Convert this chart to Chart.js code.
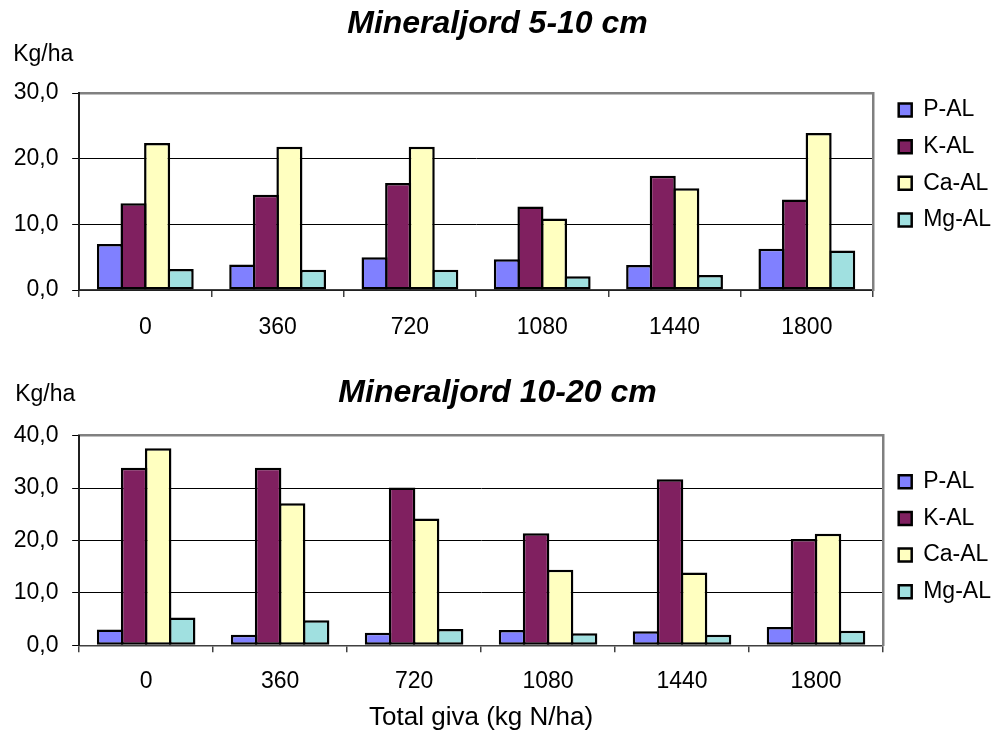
<!DOCTYPE html>
<html>
<head>
<meta charset="utf-8">
<script src="https://cdn.jsdelivr.net/npm/chart.js@4.4.1/dist/chart.umd.min.js"></script>
<style>
  html, body { margin: 0; padding: 0; background: #fff; }
  #wrap { width: 995px; height: 736px; position: relative; }
  .panel { position: absolute; left: 0; width: 995px; }
  #panelTop { top: 0; height: 340px; }
  #panelBottom { top: 340px; height: 396px; }
</style>
</head>
<body>
<div id="wrap">
  <div class="panel" id="panelTop"><canvas id="chartTop"></canvas></div>
  <div class="panel" id="panelBottom"><canvas id="chartBottom"></canvas></div>
</div>
<script>
// Total nitrogen dose (kg N/ha)
const doses = ['0', '360', '720', '1080', '1440', '1800'];
const seriesNames = ['P-AL', 'K-AL', 'Ca-AL', 'Mg-AL'];

// Mineral soil 5-10 cm, kg/ha
const pAL_5_10  = [7.0, 3.9, 5.0, 4.7, 3.8, 6.3];
const kAL_5_10  = [13.2, 14.5, 16.3, 12.7, 17.4, 13.8];
const caAL_5_10 = [22.4, 21.8, 21.8, 10.9, 15.5, 23.9];
const mgAL_5_10 = [3.2, 3.1, 3.1, 2.1, 2.3, 6.0];

// Mineral soil 10-20 cm, kg/ha
const pAL_10_20  = [3.0, 2.0, 2.4, 2.9, 2.7, 3.5];
const kAL_10_20  = [33.9, 33.9, 30.1, 21.4, 31.7, 20.3];
const caAL_10_20 = [37.6, 27.1, 24.2, 14.4, 13.9, 21.3];
const mgAL_10_20 = [5.3, 4.8, 3.1, 2.3, 2.0, 2.8];

const yMaxTop = 30;
const yMaxBottom = 40;
const yStep = 10;

const seriesColors = ['#8080FF', '#802060', '#FFFFC0', '#A0E0E0'];
const FONT = '"Liberation Sans", Arial, Helvetica, sans-serif';
const BAR_BORDER = 2.5;

// Horizontal unit caption above the value axis
const unitLabel = {
  id: 'unitLabel',
  afterDraw(chart, args, opts) {
    const { ctx, chartArea } = chart;
    ctx.save();
    ctx.font = '23px ' + FONT;
    ctx.fillStyle = '#000';
    ctx.textAlign = 'left';
    ctx.textBaseline = 'middle';
    ctx.fillText(opts.text, chartArea.left + opts.dx, chartArea.top + opts.dy);
    ctx.restore();
  }
};

function decimalComma(v) {
  return Number(v).toFixed(1).replace('.', ',');
}

function buildChart(canvasId, cfg) {
  // neighbouring bars overlap by one border width so they share an outline
  const datasets = cfg.values.map((vals, i) => ({
    label: seriesNames[i],
    data: vals,
    backgroundColor: seriesColors[i],
    borderColor: '#000',
    borderWidth: BAR_BORDER,
    borderSkipped: false,
    categoryPercentage: cfg.catPct,
    barPercentage: 1.105
  }));

  return new Chart(document.getElementById(canvasId), {
    type: 'bar',
    data: { labels: doses, datasets },
    plugins: [unitLabel],
    options: {
      responsive: true,
      maintainAspectRatio: false,
      animation: false,
      layout: { padding: { left: 0, right: 0, top: cfg.padTop, bottom: cfg.padBottom } },
      plugins: {
        title: {
          display: true,
          text: cfg.title,
          color: '#000',
          font: { family: FONT, size: 32, weight: 'bold', style: 'italic' },
          padding: { top: cfg.titleTop, bottom: cfg.titleBottom }
        },
        legend: {
          display: true,
          position: 'right',
          align: 'center',
          maxWidth: 110,
          labels: {
            color: '#000',
            font: { family: FONT, size: 23 },
            boxWidth: 13,
            boxHeight: 13,
            padding: 13.7
          }
        },
        tooltip: { enabled: false },
        unitLabel: { text: 'Kg/ha', dx: cfg.unitDx, dy: cfg.unitDy }
      },
      scales: {
        x: {
          position: 'bottom',
          offset: true,
          grid: {
            display: true,
            offset: true,
            drawOnChartArea: false,
            drawTicks: true,
            tickLength: 7,
            color: '#404040',
            lineWidth: 1.5
          },
          border: { display: true, color: '#404040', width: 1.5 },
          ticks: { color: '#000', font: { family: FONT, size: 23 }, padding: cfg.xTickPad, maxRotation: 0, autoSkip: false },
          title: cfg.xTitle ? {
            display: true,
            text: cfg.xTitle,
            color: '#000',
            font: { family: FONT, size: 26 },
            padding: { top: 0, bottom: 0 }
          } : { display: false },
          afterFit: (scale) => { scale.height = cfg.xHeight; }
        },
        xFrame: {
          type: 'category',
          position: 'top',
          grid: { display: false },
          ticks: { display: false },
          border: { display: true, color: '#808080', width: 2.5 },
          afterFit: (scale) => { scale.height = 0; }
        },
        y: {
          position: 'left',
          min: 0,
          max: cfg.yMax,
          ticks: {
            stepSize: yStep,
            color: '#000',
            font: { family: FONT, size: 23 },
            padding: 13.7,
            callback: (v) => decimalComma(v)
          },
          grid: {
            color: (c) => (c.tick && c.tick.value === cfg.yMax) ? 'rgba(0,0,0,0)' : '#000',
            tickColor: '#000',
            lineWidth: 1,
            tickLength: 7
          },
          border: { display: true, color: '#202020', width: 2 }
        },
        yFrame: {
          type: 'linear',
          position: 'right',
          grid: { display: false },
          ticks: { display: false },
          border: { display: true, color: '#808080', width: 2.5 },
          afterFit: (scale) => { scale.width = cfg.rightGap; }
        }
      }
    }
  });
}

buildChart('chartTop', {
  title: 'Mineraljord 5-10 cm',
  values: [pAL_5_10, kAL_5_10, caAL_5_10, mgAL_5_10],
  yMax: yMaxTop,
  catPct: 0.713,
  padTop: -10,
  padBottom: 0,
  titleTop: 14.5,
  titleBottom: 50.1,
  xHeight: 50,
  xTickPad: 17,
  xTitle: null,
  rightGap: 12,
  unitDx: -66,
  unitDy: -38
});

buildChart('chartBottom', {
  title: 'Mineraljord 10-20 cm',
  values: [pAL_10_20, kAL_10_20, caAL_10_20, mgAL_10_20],
  yMax: yMaxBottom,
  catPct: 0.717,
  padTop: 0,
  padBottom: 2.5,
  titleTop: 34,
  titleBottom: 23.3,
  xHeight: 88.2,
  xTickPad: 16,
  xTitle: 'Total giva (kg N/ha)',
  rightGap: 2,
  unitDx: -64,
  unitDy: -40.7
});
</script>
</body>
</html>
